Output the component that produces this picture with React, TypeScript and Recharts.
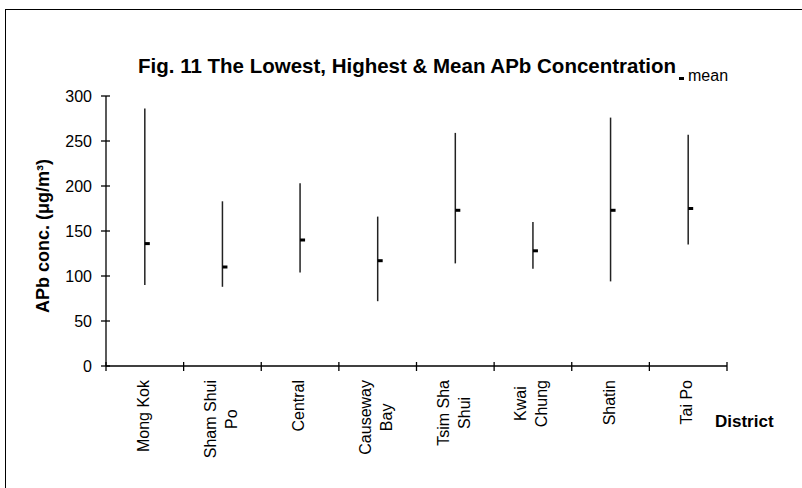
import React from "react";
import { ComposedChart, Scatter, ErrorBar, XAxis, YAxis, Legend } from "recharts";

// values
const districts = ["Mong Kok", "Sham Shui\nPo", "Central", "Causeway\nBay", "Tsim Sha\nShui", "Kwai\nChung", "Shatin", "Tai Po"];
const lowest = [90, 88, 104, 72, 114, 108, 94, 135];
const highest = [286, 183, 203, 166, 259, 160, 276, 257];
const mean = [136, 110, 140, 117, 173, 128, 173, 175];
const yTicks = [0, 50, 100, 150, 200, 250, 300];

const title = "Fig. 11 The Lowest, Highest & Mean APb Concentration";
const yTitle = "APb conc. (\u03bcg/m\u00b3)";
const xTitle = "District";

const FONT = '"Liberation Sans", Arial, sans-serif';

const data = districts.map((d, i) => ({
  x: i + 0.5,
  district: d,
  mean: mean[i],
  range: [mean[i] - lowest[i], highest[i] - mean[i]],
}));

// ticks on category edges (integers) and labels at the middles (halves)
const xTicks: number[] = [];
for (let i = 0; i <= districts.length * 2; i++) xTicks.push(i / 2);

let ctx: CanvasRenderingContext2D | null = null;
function textWidth(t: string, font: string) {
  if (!ctx) ctx = document.createElement("canvas").getContext("2d");
  if (!ctx) return t.length * 8;
  ctx.font = font;
  return ctx.measureText(t).width;
}

function XTick(props: any) {
  const { x, y, payload } = props;
  const v = payload.value;
  if (Number.isInteger(v)) {
    return <line x1={x} x2={x} y1={y - 4} y2={y + 5} stroke="#000" strokeWidth={1.3} />;
  }
  const lines = districts[Math.floor(v)].split("\n");
  const n = lines.length;
  const longest = Math.max(...lines.map((t) => textWidth(t, "16px " + FONT)));
  const mid = y + 14 + longest / 2;
  return (
    <g>
      {lines.map((t, i) => {
        const bx = x + 4 + (i - (n - 1) / 2) * 21;
        return (
          <text
            key={i}
            transform={`translate(${bx},${mid}) rotate(-90)`}
            textAnchor="middle"
            fontSize={16}
            fontFamily={FONT}
            fill="#000"
          >
            {t}
          </text>
        );
      })}
    </g>
  );
}

function YTick(props: any) {
  const { x, y, payload } = props;
  const ax = x + 14;
  return (
    <g>
      <line x1={ax - 5} x2={ax + 4} y1={y} y2={y} stroke="#000" strokeWidth={1.3} />
      <text x={x} y={y} dy={6} textAnchor="end" fontSize={16} fontFamily={FONT} fill="#000">
        {payload.value}
      </text>
    </g>
  );
}

const renderYTitle = (props: any) => {
  const vb = props.viewBox;
  const cx = vb.x + 23;
  const cy = vb.y + vb.height / 2 + 5;
  return (
    <text
      x={cx}
      y={cy}
      transform={`rotate(-90 ${cx} ${cy})`}
      textAnchor="middle"
      dominantBaseline="central"
      fontSize={18}
      fontWeight="bold"
      fontFamily={FONT}
      fill="#000"
    >
      {yTitle}
    </text>
  );
};

const renderXTitle = (props: any) => {
  const vb = props.viewBox;
  return (
    <text x={vb.x + vb.width - 12} y={vb.y + 61} fontSize={17} fontWeight="bold" fontFamily={FONT} fill="#000">
      {xTitle}
    </text>
  );
};

const MeanMark = (props: any) => {
  const { cx, cy } = props;
  return <rect x={cx} y={cy - 1.5} width={5} height={3} fill="#000" />;
};

const renderLegend = () => (
  <div style={{ position: "relative", width: 60, height: 20, fontFamily: FONT }}>
    <span style={{ position: "absolute", left: 2, top: 9, width: 5, height: 3, background: "#000" }} />
    <span style={{ position: "absolute", left: 11, top: 0, fontSize: 16, lineHeight: "16px", color: "#000" }}>mean</span>
  </div>
);

export default function App() {
  return (
    <div style={{ position: "absolute", left: 0, top: 0, width: 802, height: 488, background: "#fff", overflow: "hidden" }}>
      <div style={{ position: "absolute", left: 5, top: 9, width: 900, height: 600, borderTop: "1.5px solid #000", borderLeft: "1.5px solid #000" }} />
      <div
        style={{
          position: "absolute",
          left: 138,
          top: 55,
          whiteSpace: "nowrap",
          fontFamily: FONT,
          fontWeight: "bold",
          fontSize: 20.5,
          lineHeight: "21px",
          color: "#000",
        }}
      >
        {title}
      </div>
      <div style={{ position: "absolute", left: 0, top: 0 }}>
        <ComposedChart width={802} height={488} data={data} margin={{ top: 96, right: 75, bottom: 62, left: 20 }}>
          <XAxis
            dataKey="x"
            type="number"
            domain={[0, districts.length]}
            ticks={xTicks}
            interval={0}
            height={60}
            tickSize={0}
            tickMargin={0}
            tickLine={false}
            tick={<XTick />}
            axisLine={{ stroke: "#000", strokeWidth: 1.3 }}
            label={{ content: renderXTitle }}
          />
          <YAxis
            type="number"
            domain={[0, 300]}
            ticks={yTicks}
            interval={0}
            width={86}
            tickSize={0}
            tickMargin={14}
            tickLine={false}
            tick={<YTick />}
            axisLine={{ stroke: "#000", strokeWidth: 1.3 }}
            label={{ content: renderYTitle }}
          />
          <Legend
            layout="horizontal"
            verticalAlign="middle"
            align="center"
            content={renderLegend}
            wrapperStyle={{ left: 677, top: 68, width: 60, height: 20 }}
          />
          <Scatter dataKey="mean" shape={<MeanMark />} isAnimationActive={false}>
            <ErrorBar dataKey="range" direction="y" width={0} stroke="#222" strokeWidth={1.5} isAnimationActive={false} />
          </Scatter>
        </ComposedChart>
      </div>
    </div>
  );
}
